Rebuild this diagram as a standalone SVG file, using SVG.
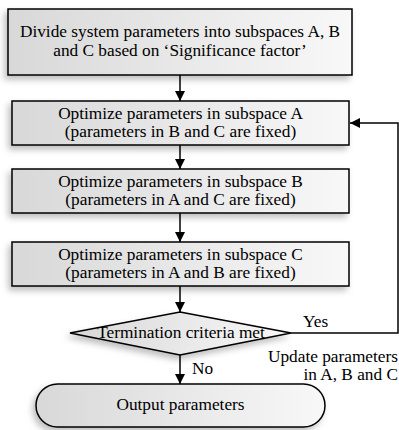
<svg xmlns="http://www.w3.org/2000/svg" width="399" height="430" viewBox="0 0 399 430">
<style>
.box{fill:url(#g);stroke:#000;stroke-width:1.5;filter:url(#sh)}
.t{font-family:'Liberation Serif','Times New Roman',serif;font-size:17.3px;fill:#000;text-anchor:middle}
.l{font-family:'Liberation Serif','Times New Roman',serif;font-size:17.3px;fill:#000}
.c{fill:none;stroke:#000;stroke-width:1.5}
</style>
<defs>
<linearGradient id="g" x1="0" y1="0" x2="1" y2="0">
<stop offset="0" stop-color="#d8d8d8"/>
<stop offset="1" stop-color="#f8f8f8"/>
</linearGradient>
<filter id="sh" x="-10%" y="-20%" width="120%" height="150%">
<feDropShadow dx="-3" dy="4" stdDeviation="3" flood-color="#000" flood-opacity="0.25"/>
</filter>
<marker id="a" markerWidth="10" markerHeight="10" viewBox="0 0 10 10" refX="10" refY="5" orient="auto" markerUnits="userSpaceOnUse">
<path d="M0,0 L10,5 L0,10 z" fill="#000"/>
</marker>
</defs>
<g id="connectors">
<line class="c" x1="180" y1="75" x2="180" y2="101" marker-end="url(#a)"/>
<line class="c" x1="180" y1="145" x2="180" y2="169" marker-end="url(#a)"/>
<line class="c" x1="180" y1="213" x2="180" y2="242" marker-end="url(#a)"/>
<line class="c" x1="180" y1="286" x2="180" y2="312" marker-end="url(#a)"/>
<line class="c" x1="180" y1="355" x2="180" y2="384" marker-end="url(#a)"/>
<polyline class="c" points="291,333 398,333 398,123 350,123" marker-end="url(#a)"/>
<text class="l" x="303" y="327">Yes</text>
<text class="l" x="398" y="362" text-anchor="end">Update parameters</text>
<text class="l" x="398" y="380" text-anchor="end">in A, B and C</text>
<text class="l" x="192" y="374">No</text>
</g>
<g id="divide">
<rect class="box" x="8" y="9" width="344" height="66"/>
<text class="t" x="180" y="37">Divide system parameters into subspaces A, B</text>
<text class="t" x="180" y="56">and C based on ‘Significance factor’</text>
</g>
<g id="optA">
<rect class="box" x="12" y="101" width="337" height="44"/>
<text class="t" x="180.5" y="119">Optimize parameters in subspace A</text>
<text class="t" x="180.5" y="137">(parameters in B and C are fixed)</text>
</g>
<g id="optB">
<rect class="box" x="12" y="169" width="337" height="44"/>
<text class="t" x="180.5" y="187">Optimize parameters in subspace B</text>
<text class="t" x="180.5" y="205">(parameters in A and C are fixed)</text>
</g>
<g id="optC">
<rect class="box" x="12" y="242" width="337" height="44"/>
<text class="t" x="180.5" y="260">Optimize parameters in subspace C</text>
<text class="t" x="180.5" y="278">(parameters in A and B are fixed)</text>
</g>
<g id="term">
<polygon class="box" points="180,312 291,333 180,355 70,333"/>
<text class="t" x="181" y="338">Termination criteria met</text>
</g>
<g id="output">
<rect class="box" x="36" y="384" width="289" height="43" rx="21.5" ry="21.5"/>
<text class="t" x="180.5" y="410">Output parameters</text>
</g>
</svg>
